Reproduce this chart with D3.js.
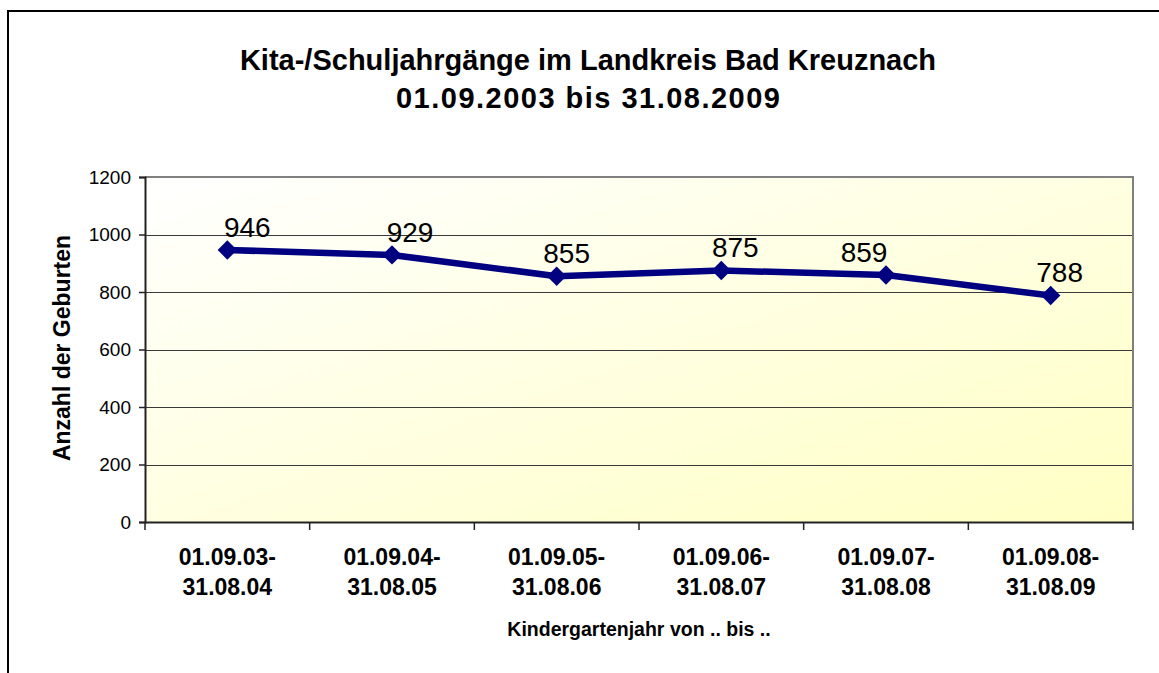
<!DOCTYPE html>
<html>
<head>
<meta charset="utf-8">
<script src="https://cdn.jsdelivr.net/npm/d3@7"></script>
<style>
  html, body { margin: 0; padding: 0; background: #fff; }
  svg { display: block; font-family: "Liberation Sans", Arial, sans-serif; }
</style>
</head>
<body>
<svg id="chart" width="1159" height="673"></svg>
<script>
// ---- data ----
const categoriesLine1 = ["01.09.03-", "01.09.04-", "01.09.05-", "01.09.06-", "01.09.07-", "01.09.08-"];
const categoriesLine2 = ["31.08.04", "31.08.05", "31.08.06", "31.08.07", "31.08.08", "31.08.09"];
const births = [946, 929, 855, 875, 859, 788];
const yTicks = [0, 200, 400, 600, 800, 1000, 1200];
const titleLines = ["Kita-/Schuljahrgänge im Landkreis Bad Kreuznach", "01.09.2003 bis 31.08.2009"];
const yTitle = "Anzahl der Geburten";
const xTitle = "Kindergartenjahr von .. bis ..";

// ---- layout ----
const plot = { left: 145, right: 1133, top: 177, bottom: 522 };
const labelDx = [20, 18, 10, 14, -22, 9];

const svg = d3.select("#chart");

// outer frame (left and top edges visible)
svg.append("line").attr("x1", 8).attr("x2", 8).attr("y1", 10).attr("y2", 673)
  .attr("stroke", "#000").attr("stroke-width", 2);
svg.append("line").attr("x1", 7).attr("x2", 1159).attr("y1", 11).attr("y2", 11)
  .attr("stroke", "#000").attr("stroke-width", 2);

// gradient
const defs = svg.append("defs");
const grad = defs.append("linearGradient").attr("id", "bg")
  .attr("x1", "0%").attr("y1", "0%").attr("x2", "100%").attr("y2", "100%");
grad.append("stop").attr("offset", "0%").attr("stop-color", "#ffffff");
grad.append("stop").attr("offset", "100%").attr("stop-color", "#ffffc4");

const x = d3.scaleBand().domain(births.map((d, i) => i)).range([plot.left, plot.right]);
const y = d3.scaleLinear().domain([0, 1200]).range([plot.bottom, plot.top]);

svg.append("rect").attr("x", plot.left).attr("y", plot.top)
  .attr("width", plot.right - plot.left).attr("height", plot.bottom - plot.top)
  .attr("fill", "url(#bg)");

// gridlines
svg.append("g").selectAll("line").data(yTicks.filter(t => t > 0 && t < 1200)).join("line")
  .attr("x1", plot.left).attr("x2", plot.right)
  .attr("y1", d => Math.round(y(d)) + 0.5).attr("y2", d => Math.round(y(d)) + 0.5)
  .attr("stroke", "#3a3a3a").attr("stroke-width", 1);

// plot border top & right (gray)
svg.append("path")
  .attr("d", `M${plot.left},${plot.top} H${plot.right} V${plot.bottom}`)
  .attr("fill", "none").attr("stroke", "#808080").attr("stroke-width", 2);

// Y axis
const yAxis = d3.axisLeft(y).tickValues(yTicks).tickFormat(d3.format("d")).tickSize(6).tickPadding(8);
const gy = svg.append("g").attr("transform", `translate(${plot.left},0)`).call(yAxis);
gy.select(".domain").attr("stroke", "#222").attr("stroke-width", 2);
gy.selectAll(".tick line").attr("stroke", "#222").attr("stroke-width", 1.5);
gy.selectAll(".tick text").attr("font-size", 19).attr("fill", "#000")
  .attr("font-family", "Liberation Sans, Arial, sans-serif");

// X axis
const xAxis = d3.axisBottom(x).tickValues([]).tickSizeOuter(0);
const gx = svg.append("g").attr("transform", `translate(0,${plot.bottom})`).call(xAxis);
gx.select(".domain").attr("stroke", "#222").attr("stroke-width", 2);
// boundary ticks
const bounds = births.map((d, i) => x(i)).concat([x(births.length - 1) + x.bandwidth()]);
gx.selectAll("line.bt").data(bounds).join("line").attr("class", "bt")
  .attr("x1", d => d).attr("x2", d => d).attr("y1", 0).attr("y2", 8)
  .attr("stroke", "#222").attr("stroke-width", 1.5);

// category labels
const cl = svg.append("g").attr("font-weight", "bold").attr("font-size", 23).attr("text-anchor", "middle");
cl.selectAll("text.l1").data(categoriesLine1).join("text").attr("class", "l1")
  .attr("x", (d, i) => x(i) + x.bandwidth() / 2).attr("y", 565).text(d => d);
cl.selectAll("text.l2").data(categoriesLine2).join("text").attr("class", "l2")
  .attr("x", (d, i) => x(i) + x.bandwidth() / 2).attr("y", 595).text(d => d);

// line
const line = d3.line().x((d, i) => x(i) + x.bandwidth() / 2).y(d => y(d));
svg.append("path").datum(births).attr("d", line)
  .attr("fill", "none").attr("stroke", "#000080").attr("stroke-width", 6.5)
  .attr("stroke-linejoin", "round");

// markers
const sym = d3.symbol().type(d3.symbolDiamond2).size(240);
svg.append("g").selectAll("path").data(births).join("path")
  .attr("d", sym)
  .attr("transform", (d, i) => `translate(${x(i) + x.bandwidth() / 2},${y(d)})`)
  .attr("fill", "#000080");

// data labels
svg.append("g").selectAll("text").data(births).join("text")
  .attr("x", (d, i) => x(i) + x.bandwidth() / 2 + labelDx[i])
  .attr("y", d => y(d) - 13)
  .attr("text-anchor", "middle").attr("font-size", 28).attr("fill", "#000")
  .text(d => d);

// title
const tt = svg.append("g").attr("font-weight", "bold").attr("text-anchor", "middle").attr("font-size", 29);
tt.append("text").attr("x", 588).attr("y", 70).text(titleLines[0]);
tt.append("text").attr("x", 588).attr("y", 108)
  .attr("textLength", 384).attr("lengthAdjust", "spacing").text(titleLines[1]);

// axis titles
svg.append("text").attr("transform", "translate(70,348) rotate(-90)")
  .attr("text-anchor", "middle").attr("font-weight", "bold").attr("font-size", 23)
  .text(yTitle);
svg.append("text").attr("x", 639).attr("y", 636)
  .attr("text-anchor", "middle").attr("font-weight", "bold").attr("font-size", 19.5)
  .text(xTitle);
</script>
</body>
</html>
